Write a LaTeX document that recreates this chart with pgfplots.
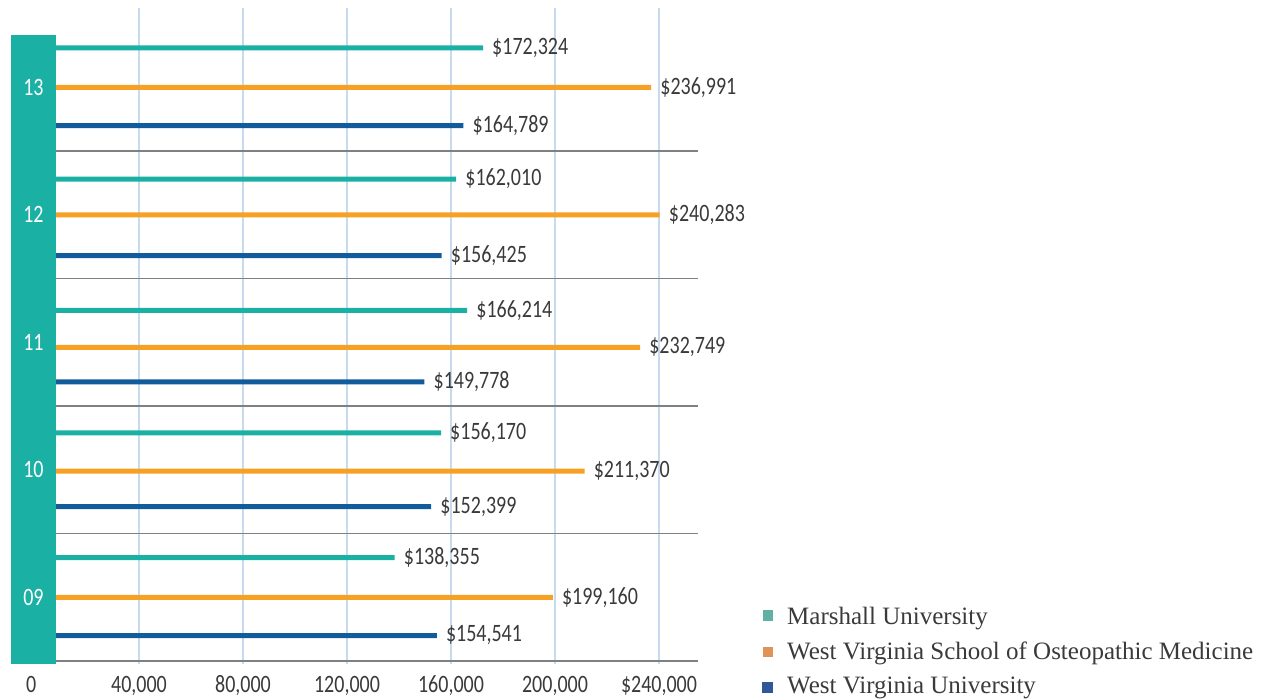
\documentclass[border=0pt]{standalone}
\usepackage{pgfplots}
\pgfplotsset{compat=1.18}
\usepackage{fontspec}
\setmainfont{Carlito}[FakeStretch=0.8]
\newfontfamily\legfont{Liberation Serif}
\definecolor{mteal}{HTML}{1BB0A4}
\definecolor{morange}{HTML}{F7A124}
\definecolor{mblue}{HTML}{135C9B}
\definecolor{gridblue}{HTML}{C6DBEE}
\definecolor{sepgray}{HTML}{808080}
\definecolor{txtgray}{HTML}{3A3A3A}
\definecolor{legteal}{HTML}{62B0A4}
\definecolor{legorange}{HTML}{E09259}
\definecolor{legblue}{HTML}{2F5799}
\begin{document}
\begin{tikzpicture}[x=1pt,y=1pt]
\useasboundingbox (0,0) rectangle (1265,700);
\begin{axis}[
  at={(11pt,36pt)}, anchor=south west,
  scale only axis, width=687pt, height=656pt,
  xmin=-9230, xmax=255000, ymin=-0.5235, ymax=4.622,
  clip=false,
  axis line style={draw=none},
  major tick length=0pt,
  ytick=\empty,
  xtick={40000,80000,120000,160000,200000,240000},
  xticklabels={{40,000},{80,000},{120,000},{160,000},{200,000},{\$240,000}},
  extra x ticks={-1500},
  extra x tick labels={0},
  extra x tick style={grid=none},
  xticklabel style={font=\fontsize{25}{25}\selectfont, text=txtgray, anchor=base, yshift=-28.5pt},
  xmajorgrids,
  grid style={color=gridblue, line width=1.5pt},
  /pgf/number format/assume math mode=true,
  xbar, bar width=5pt, bar shift=0pt,
  point meta=x,
  nodes near coords={\$\pgfmathprintnumber[fixed,precision=0,1000 sep={,}]{\pgfplotspointmeta}},
  nodes near coords align={horizontal},
  every node near coord/.append style={font=\fontsize{25}{25}\selectfont, text=txtgray, anchor=west, inner sep=0pt, xshift=9pt},
]
% Marshall University
\addplot[draw=none, fill=mteal] coordinates {
  (138355,0.31) (156170,1.29) (166214,2.25) (162010,3.28) (172324,4.31)};
% West Virginia School of Osteopathic Medicine
\addplot[draw=none, fill=morange] coordinates {
  (199160,0) (211370,0.99) (232749,1.96) (240283,3.0) (236991,4.0)};
% West Virginia University
\addplot[draw=none, fill=mblue] coordinates {
  (154541,-0.3) (152399,0.71) (149778,1.69) (156425,2.68) (164789,3.7)};
\foreach \yy in {-0.5,0.5,1.5,2.5,3.5} {
  \edef\tmp{\noexpand\draw[sepgray, line width=1.5pt] (axis cs:8077,\yy) -- (axis cs:255000,\yy);}
  \tmp
}
\fill[mteal] (axis cs:-9230,-0.5235) rectangle (axis cs:8077,4.41);
\foreach \yy/\lab in {0/09,1/10,2/11,3/12,4/13} {
  \edef\tmp{\noexpand\node[text=white, font=\noexpand\fontsize{25}{25}\noexpand\selectfont] at (axis cs:-600,\yy) {\lab};}
  \tmp
}
\end{axis}
\fill[legteal] (763,79) rectangle (773,90);
\fill[legorange] (763,43) rectangle (773,53);
\fill[legblue] (762,7) rectangle (773,18);
\begin{scope}[every node/.style={anchor=base west, inner sep=0pt, text=txtgray, font=\legfont\fontsize{25}{25}\selectfont}]
\node at (787,75) {Marshall University};
\node at (787,40) {West Virginia School of Osteopathic Medicine};
\node at (787,6) {West Virginia University};
\end{scope}
\end{tikzpicture}
\end{document}
